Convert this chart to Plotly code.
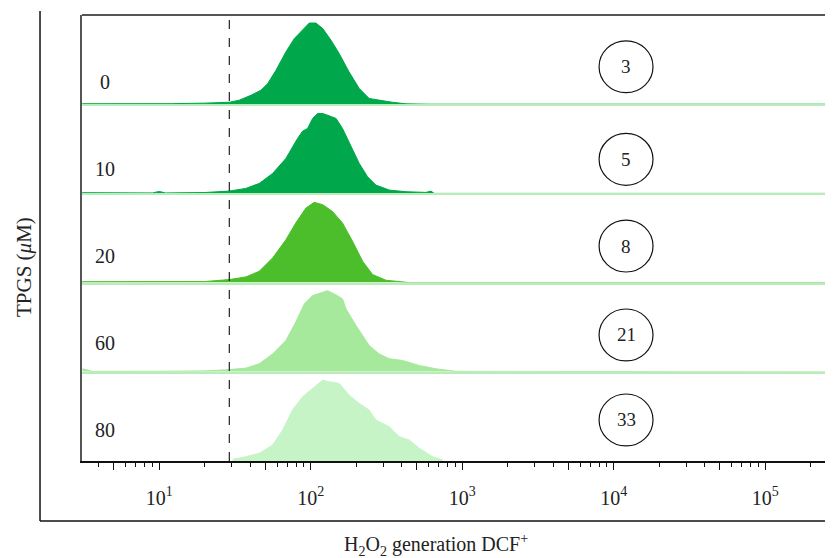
import math
import plotly.graph_objects as go
from plotly.subplots import make_subplots

# ---------------- data ----------------
rows = ["0", "10", "20", "60", "80"]          # TPGS (µM)
positive_pct = ["3", "5", "8", "21", "33"]     # DCF+ percentages in circles
gate_dcf = 29                                  # dashed gate position

# DCF fluorescence (x) and relative counts (% of row height)
x_0 = [3.1, 8, 12, 20, 25, 29, 33.7, 40.3, 46.9, 51.9, 58.9, 68.5, 77.8, 88.3, 97.7, 108,
       120, 136, 154, 179, 209, 243, 298, 345, 425, 600, 2e5, 4e5]
y_0 = [0.5, 0.3, 0.6, 1.2, 1.5, 2.2, 4.5, 10, 15.7, 23, 38, 58.6, 73.5, 82.9, 91, 91,
       84.9, 71.7, 56.8, 36.2, 17.6, 6.4, 3.7, 2.2, 0.4, 0.0, 0.0, 0.0]

x_10 = [3.1, 9, 10, 11, 20, 29, 37.3, 45.7, 56, 68.5, 81.8, 88.3, 95.3, 102.8, 111, 120,
        132, 147, 162, 184, 209, 237, 269, 330, 425, 575, 621, 653, 2e5, 4e5]
y_10 = [0.8, 0.5, 2.2, 0.5, 1.0, 2.6, 5.6, 11.2, 22.4, 39.2, 61.6, 69.8, 72.8, 84, 89.6, 89.6,
        87, 84, 72.8, 54, 33.6, 18.7, 9.3, 3.7, 1.9, 1.1, 2.6, 0.0, 0.0, 0.0]

x_20 = [3.1, 10, 20, 29, 37.3, 45.7, 56, 68.5, 79.6, 92.9, 105.4, 120, 139, 162, 189, 220,
        256, 314, 447, 2e5, 4e5]
y_20 = [1.0, 0.8, 1.2, 3.4, 6.4, 12.7, 27.7, 48, 66.8, 83.6, 90, 87.3, 79.8, 66.8, 46.2, 23.9,
        9, 2.6, 0.0, 0.0, 0.0]

x_60 = [3.12, 3.6, 10, 20, 27.5, 37.3, 45.7, 56, 68.5, 79.6, 90.6, 102.8, 120, 129, 147, 162,
        171, 199, 243, 283, 330, 404, 520, 670, 908, 2e5, 4e5]
y_60 = [3.4, 0.5, 0.6, 1.0, 2.2, 4.1, 9, 20, 35, 55.7, 76, 85.4, 89.2, 91, 86.2, 81.7,
        70.5, 51.8, 29.5, 20, 14.6, 12.7, 7, 3.4, 0.5, 0.0, 0.0]

x_80 = [30.5, 37.3, 45.7, 56, 65.2, 75.8, 88.3, 102.8, 120, 132, 154, 179, 209, 243, 269,
        330, 384, 447, 520, 637, 741]
y_80 = [1.9, 4.8, 8.6, 17.9, 34.7, 57.1, 72, 81.4, 90.7, 88.8, 87, 73.9, 64.6, 57.1, 45.9,
        38.4, 27.2, 23.5, 14.2, 4.8, 1.1]

xs = [x_0, x_10, x_20, x_60, x_80]
ys = [y_0, y_10, y_20, y_60, y_80]
colors = ["#00A74B", "#00A74B", "#4CBE2C", "#A6E89C", "#C6F4C6"]

tick_vals = [5, 10, 50, 100, 500, 1000, 5000, 1e4, 5e4, 1e5, 5e5]
tick_text = ["", "10<sup>1</sup>", "", "10<sup>2</sup>", "", "10<sup>3</sup>", "",
             "10<sup>4</sup>", "", "10<sup>5</sup>", ""]

# ---------------- figure ----------------
SERIF = "Liberation Serif, Times New Roman, serif"
TXT = "#222222"
fig = make_subplots(rows=5, cols=1, shared_xaxes=True, vertical_spacing=0)

for i in range(5):
    fig.add_trace(go.Scatter(x=xs[i], y=ys[i], mode="lines", fill="tozeroy",
                             line=dict(color=colors[i], width=1),
                             fillcolor=colors[i], hoverinfo="skip", showlegend=False),
                  row=i + 1, col=1)

XRANGE = [0.49, 5.447]
for i in range(1, 6):
    bottom = (i == 5)
    fig.update_xaxes(type="log", range=XRANGE, showgrid=False, zeroline=False,
                     showline=True,
                     linecolor="#111111" if bottom else "#B8ECB8",
                     linewidth=1.5,
                     ticks="outside" if bottom else "",
                     tickmode="array", tickvals=tick_vals, ticktext=tick_text,
                     ticklen=7, tickwidth=1.2, tickcolor="#111111",
                     showticklabels=bottom,
                     ticklabelstandoff=11,
                     tickfont=dict(family=SERIF, size=20, color=TXT),
                     minor=dict(ticks="outside" if bottom else "", dtick="D1",
                                ticklen=4, tickwidth=1.2, tickcolor="#111111",
                                showgrid=False),
                     row=i, col=1)
    fig.update_yaxes(range=[0, 100], showgrid=False, zeroline=False, showticklabels=False,
                     ticks="", showline=True, linecolor="#555555", linewidth=2,
                     row=i, col=1)

# dashed gate line
fig.add_shape(type="line", xref="x5", yref="paper", x0=gate_dcf, x1=gate_dcf, y0=0, y1=1,
              line=dict(color="#222222", width=1.2, dash="dash"))
# top frame
fig.add_shape(type="line", xref="paper", yref="paper", x0=0, x1=1, y0=1, y1=1,
              line=dict(color="#555555", width=2))
# outer frame (left and bottom)
fig.add_shape(type="line", xref="paper", yref="paper", x0=-0.0559, x1=-0.0559,
              y0=-0.1345, y1=1.009, line=dict(color="#111111", width=1.5))
fig.add_shape(type="line", xref="paper", yref="paper", x0=-0.0559, x1=1.0,
              y0=-0.1345, y1=-0.1345, line=dict(color="#111111", width=1.5))

label_y = [25.2, 27.4, 29.8, 32.3, 34.8]
circle_x = 12050
circle_half_dec = 0.178
circle_half_h = 29.1
circle_y = [42, 38.2, 41, 41.3, 46]
for i in range(5):
    yr = "y" if i == 0 else f"y{i + 1}"
    xr = "x" if i == 0 else f"x{i + 1}"
    fig.add_annotation(text=rows[i], xref="paper", yref=yr, x=0.0306, y=label_y[i],
                       xanchor="center", yanchor="middle", showarrow=False,
                       font=dict(family=SERIF, size=20, color=TXT))
    lc = math.log10(circle_x)
    fig.add_shape(type="circle", xref=xr, yref=yr,
                  x0=10 ** (lc - circle_half_dec), x1=10 ** (lc + circle_half_dec),
                  y0=circle_y[i] - circle_half_h, y1=circle_y[i] + circle_half_h,
                  line=dict(color="#111111", width=1.2))
    fig.add_annotation(text=positive_pct[i], xref=xr, yref=yr, x=lc,
                       y=circle_y[i], xanchor="center", yanchor="middle", showarrow=False,
                       font=dict(family=SERIF, size=19, color=TXT))

fig.add_annotation(text="TPGS (<i>μ</i>M)", xref="paper", yref="paper", x=-0.0772, y=0.435,
                   xanchor="center", yanchor="middle", textangle=-90, showarrow=False,
                   font=dict(family=SERIF, size=21, color=TXT))
fig.add_annotation(text="H<sub>2</sub>O<sub>2</sub> generation DCF<sup>+</sup>",
                   xref="paper", yref="paper", x=0.4714, y=-0.1875,
                   xanchor="center", yanchor="middle", showarrow=False,
                   font=dict(family=SERIF, size=20, color=TXT))

fig.update_layout(width=825, height=550, margin=dict(l=74, r=0, t=7, b=97),
                  plot_bgcolor="white", paper_bgcolor="white")

fig.write_html("out.html")
